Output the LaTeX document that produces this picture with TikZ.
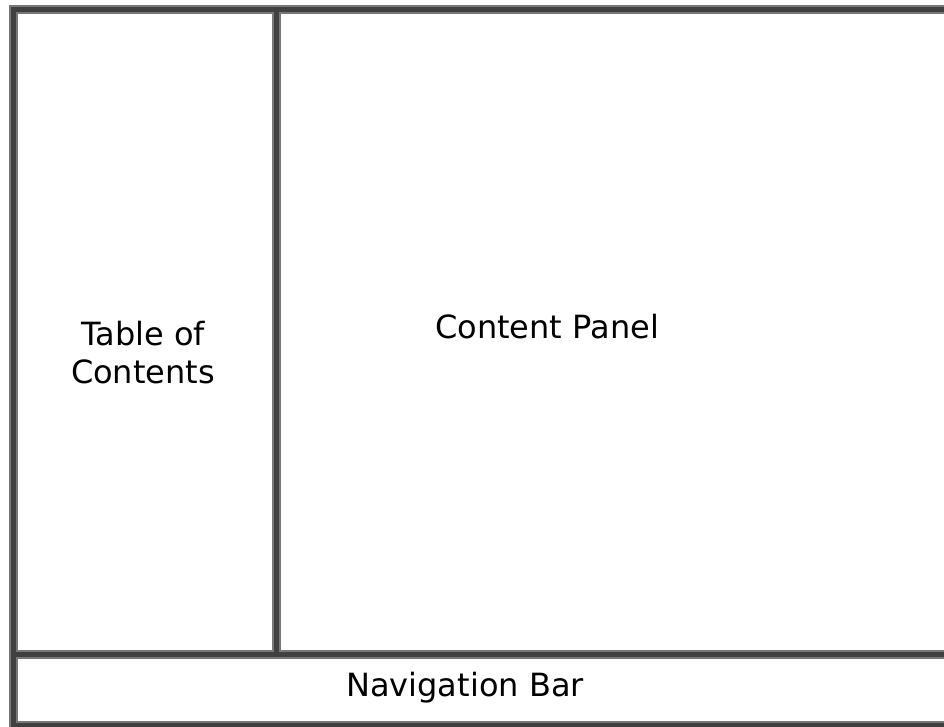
\documentclass[tikz,border=0pt]{standalone}
\usepackage{fontspec}
\setmainfont{DejaVu Sans}
\definecolor{edgegray}{RGB}{120,120,120}
\definecolor{coregray}{RGB}{64,64,64}
\begin{document}
\begin{tikzpicture}[x=1pt,y=-1pt,
  frameedge/.style={line width=9pt, draw=edgegray},
  framecore/.style={line width=5pt, draw=coregray},
  paneltext/.style={font=\fontsize{32}{38}\selectfont, anchor=base, inner sep=0pt, align=center, text=black}]
\useasboundingbox (0,0) rectangle (944,727);
\fill[white] (0,0) rectangle (944,727);
\clip (0,0) rectangle (944,727);
\coordinate (tl) at (13,10);
\coordinate (br) at (948,725);
\coordinate (vtop) at (276,10);
\coordinate (vbot) at (276,654);
\coordinate (hl) at (13,654);
\coordinate (hr) at (948,654);
\foreach \s in {frameedge,framecore}{
  \draw[\s] (tl) rectangle (br);
  \draw[\s] (vtop) -- (vbot);
  \draw[\s] (hl) -- (hr);
}
\node[paneltext] (toc) at (143,345) {Table of};
\node[paneltext] (toc2) at (143,383) {Contents};
\node[paneltext] (content) at (547,338) {Content Panel};
\node[paneltext] (nav) at (465,696) {Navigation Bar};
\end{tikzpicture}
\end{document}
